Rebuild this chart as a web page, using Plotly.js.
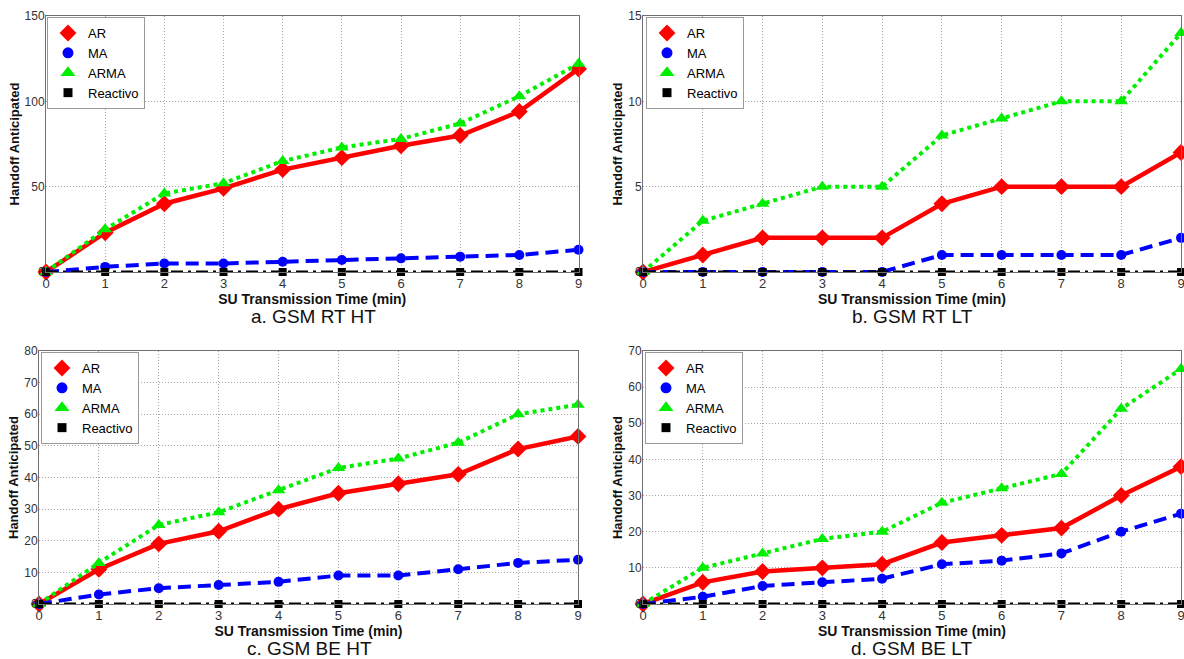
<!DOCTYPE html>
<html>
<head>
<meta charset="utf-8">
<script src="https://cdn.plot.ly/plotly-3.0.1.min.js"></script>
<style>
html,body{margin:0;padding:0;background:#fff;}
#chart{width:1184px;height:659px;}
</style>
</head>
<body>
<div id="chart"></div>
<script>
// ---------- data ----------
const time = [0, 1, 2, 3, 4, 5, 6, 7, 8, 9];
const seriesNames = ['AR', 'MA', 'ARMA', 'Reactivo'];
const panelCaptions = ['a. GSM RT HT', 'b. GSM RT LT', 'c. GSM BE HT', 'd. GSM BE LT'];
const xTitle = 'SU Transmission Time (min)';
const yTitle = 'Handoff Anticipated';

// a. GSM RT HT
const arRTHT   = [0, 23, 40, 49, 60, 67, 74, 80, 94, 119];
const maRTHT   = [0, 3, 5, 5, 6, 7, 8, 9, 10, 13];
const armaRTHT = [0, 25, 46, 52, 65, 73, 78, 87, 103, 122];
const reRTHT   = [0, 0, 0, 0, 0, 0, 0, 0, 0, 0];
// b. GSM RT LT
const arRTLT   = [0, 1, 2, 2, 2, 4, 5, 5, 5, 7];
const maRTLT   = [0, 0, 0, 0, 0, 1, 1, 1, 1, 2];
const armaRTLT = [0, 3, 4, 5, 5, 8, 9, 10, 10, 14];
const reRTLT   = [0, 0, 0, 0, 0, 0, 0, 0, 0, 0];
// c. GSM BE HT
const arBEHT   = [0, 11, 19, 23, 30, 35, 38, 41, 49, 53];
const maBEHT   = [0, 3, 5, 6, 7, 9, 9, 11, 13, 14];
const armaBEHT = [0, 13, 25, 29, 36, 43, 46, 51, 60, 63];
const reBEHT   = [0, 0, 0, 0, 0, 0, 0, 0, 0, 0];
// d. GSM BE LT
const arBELT   = [0, 6, 9, 10, 11, 17, 19, 21, 30, 38];
const maBELT   = [0, 2, 5, 6, 7, 11, 12, 14, 20, 25];
const armaBELT = [0, 10, 14, 18, 20, 28, 32, 36, 54, 65];
const reBELT   = [0, 0, 0, 0, 0, 0, 0, 0, 0, 0];

// y axis ranges / tick steps per panel
const yMax  = [150, 15, 80, 70];
const yStep = [50, 5, 10, 10];

// ---------- styling ----------
const W = 1184, H = 659;
const px = v => v / W;
const py = v => (H - v) / H;

const styles = [
  {color: '#ff0000', dash: 'solid',              width: 4.5, symbol: 'diamond',     size: 13},
  {color: '#0000ff', dash: '13px,7px',           width: 4,   symbol: 'circle',      size: 10},
  {color: '#00ee00', dash: '4px,4px',            width: 4,   symbol: 'triangle-up', size: 12},
  {color: '#000000', dash: '12px,5px,3px,5px',   width: 3,   symbol: 'square',      size: 8}
];

const panels = [
  {series: [arRTHT, maRTHT, armaRTHT, reRTHT], box: [46, 578.5, 16, 272], legend: [47, 17]},
  {series: [arRTLT, maRTLT, armaRTLT, reRTLT], box: [643, 1181, 16, 272], legend: [646, 17]},
  {series: [arBEHT, maBEHT, armaBEHT, reBEHT], box: [39, 578, 351, 604], legend: [41, 352]},
  {series: [arBELT, maBELT, armaBELT, reBELT], box: [643, 1181, 351, 604], legend: [645, 352]}
];

const traces = [];
const layout = {
  width: W, height: H,
  margin: {l: 0, r: 0, t: 0, b: 0},
  paper_bgcolor: '#ffffff',
  plot_bgcolor: '#ffffff',
  font: {family: 'Liberation Sans, Arial, sans-serif', size: 12, color: '#222'},
  annotations: []
};

const capPos = [[313, 316], [912, 316], [309, 648], [911, 648]];

panels.forEach((p, i) => {
  const n = i === 0 ? '' : String(i + 1);
  const xa = 'x' + n, ya = 'y' + n;
  const lg = 'legend' + n;
  p.series.forEach((vals, k) => {
    const s = styles[k];
    traces.push({
      x: time, y: vals, xaxis: xa, yaxis: ya,
      type: 'scatter', mode: 'lines+markers',
      name: seriesNames[k], showlegend: false, cliponaxis: false,
      line: {color: s.color, width: s.width, dash: s.dash},
      marker: {color: s.color, symbol: s.symbol, size: s.size}
    });
  });
  // legend entries (marker-only key, as in the original figure)
  seriesNames.forEach((nm, k) => {
    const s = styles[k];
    traces.push({
      x: [null], y: [null], xaxis: xa, yaxis: ya,
      type: 'scatter', mode: 'markers', name: nm, legend: lg,
      marker: {color: s.color, symbol: s.symbol, size: Math.min(s.size + 1, 13)},
      hoverinfo: 'skip'
    });
  });
  const [x0, x1, yTop, yBot] = p.box;
  layout['xaxis' + n] = {
    domain: [px(x0), px(x1)], anchor: ya,
    range: [0, 9], tickmode: 'linear', tick0: 0, dtick: 1,
    showgrid: true, gridcolor: '#a8a8a8', griddash: '1px,2px', gridwidth: 1,
    showline: true, linecolor: '#707070', linewidth: 1, mirror: true,
    zeroline: false, ticks: '', ticklabelstandoff: -1, ticklabeloverflow: 'allow',
    tickfont: {family: 'Liberation Sans Narrow, Arial Narrow, sans-serif', size: 13, color: '#333'},
    title: {text: xTitle, standoff: 2,
            font: {family: 'Liberation Sans Narrow, Arial Narrow, sans-serif', size: 14, weight: 'bold', color: '#111'}}
  };
  layout['yaxis' + n] = {
    domain: [py(yBot), py(yTop)], anchor: xa,
    range: [0, yMax[i]], tickmode: 'linear', tick0: 0, dtick: yStep[i],
    showgrid: true, gridcolor: '#a8a8a8', griddash: '1px,2px', gridwidth: 1,
    showline: true, linecolor: '#707070', linewidth: 1, mirror: true,
    zeroline: false, ticks: '', ticklabelstandoff: -2, ticklabeloverflow: 'allow',
    tickfont: {size: 12, color: '#333'},
    title: {text: yTitle, standoff: 2,
            font: {family: 'Liberation Sans, Arial, sans-serif', size: 13, weight: 'bold', color: '#111'}}
  };
  layout[lg] = {
    x: px(p.legend[0]), y: py(p.legend[1]), xanchor: 'left', yanchor: 'top',
    bgcolor: '#ffffff', bordercolor: '#9a9a9a', borderwidth: 1,
    itemwidth: 30, tracegroupgap: 0,
    font: {family: 'Liberation Sans, Arial, sans-serif', size: 13, color: '#000'}
  };
  layout.annotations.push({
    xref: 'paper', yref: 'paper', x: px(capPos[i][0]), y: py(capPos[i][1]),
    xanchor: 'center', yanchor: 'middle', showarrow: false,
    text: panelCaptions[i],
    font: {family: 'Liberation Sans, Arial, sans-serif', size: 19, color: '#111'}
  });
});

Plotly.newPlot('chart', traces, layout, {displayModeBar: false, staticPlot: true});
</script>
</body>
</html>
